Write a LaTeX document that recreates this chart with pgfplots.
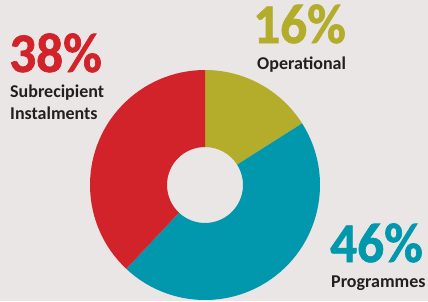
\documentclass[border=0pt]{standalone}
\usepackage{fontspec}
\setmainfont{Carlito}
\newfontfamily\bigfont[FakeBold=1.2,FakeStretch=0.95]{Carlito Bold}
\usepackage{pgfplots}
\pgfplotsset{compat=1.18}
\definecolor{bg}{HTML}{E9E6E5}
\definecolor{cRed}{HTML}{D2232A}
\definecolor{cOlive}{HTML}{B3AD2B}
\definecolor{cTeal}{HTML}{0198AE}
\definecolor{txt}{HTML}{231F20}
% #1 start (cumulative %), #2 value (%), #3 colour
\newcommand\slice[3]{%
  \fill[#3] (axis cs:{115*cos(90-3.6*#1)},{115*sin(90-3.6*#1)})
    arc[start angle={90-3.6*#1}, end angle={90-3.6*(#1+#2)}, radius=115pt]
    -- (axis cs:{38*cos(90-3.6*(#1+#2))},{38*sin(90-3.6*(#1+#2))})
    arc[start angle={90-3.6*(#1+#2)}, end angle={90-3.6*#1}, radius=38pt]
    -- cycle;}
\tikzset{pct/.style={anchor=base west, inner sep=0, text depth=0pt, font=\fontsize{56}{56}\bigfont},
  lbl/.style={anchor=base west, inner sep=0, text=txt, text height=12pt, font=\fontsize{18}{22}\selectfont\bfseries}}
\begin{document}
\begin{tikzpicture}[x=1pt,y=1pt]
\fill[bg] (0,0) rectangle (428,301);
\useasboundingbox (0,0) rectangle (428,301);
\begin{axis}[hide axis, x=1pt, y=1pt, disabledatascaling,
  xmin=-115, xmax=115, ymin=-115, ymax=115,
  at={(205pt,116pt)}, anchor=center, clip=false]
  \addplot[draw=none] coordinates {(0,0)};
  \slice{0}{16}{cOlive}
  \slice{16}{46}{cTeal}
  \slice{62}{38}{cRed}
\end{axis}
\node[pct, text=cRed] at (9,229) {38\%};
\node[lbl] at (10,204) {Subrecipient};
\node[lbl] at (10,182) {Instalments};
\node[pct, text=cOlive] at (253,258) {16\%};
\node[lbl] at (257,232) {Operational};
\node[pct, text=cTeal] at (330,39) {46\%};
\node[lbl] at (331,14) {Programmes};
\end{tikzpicture}
\end{document}
